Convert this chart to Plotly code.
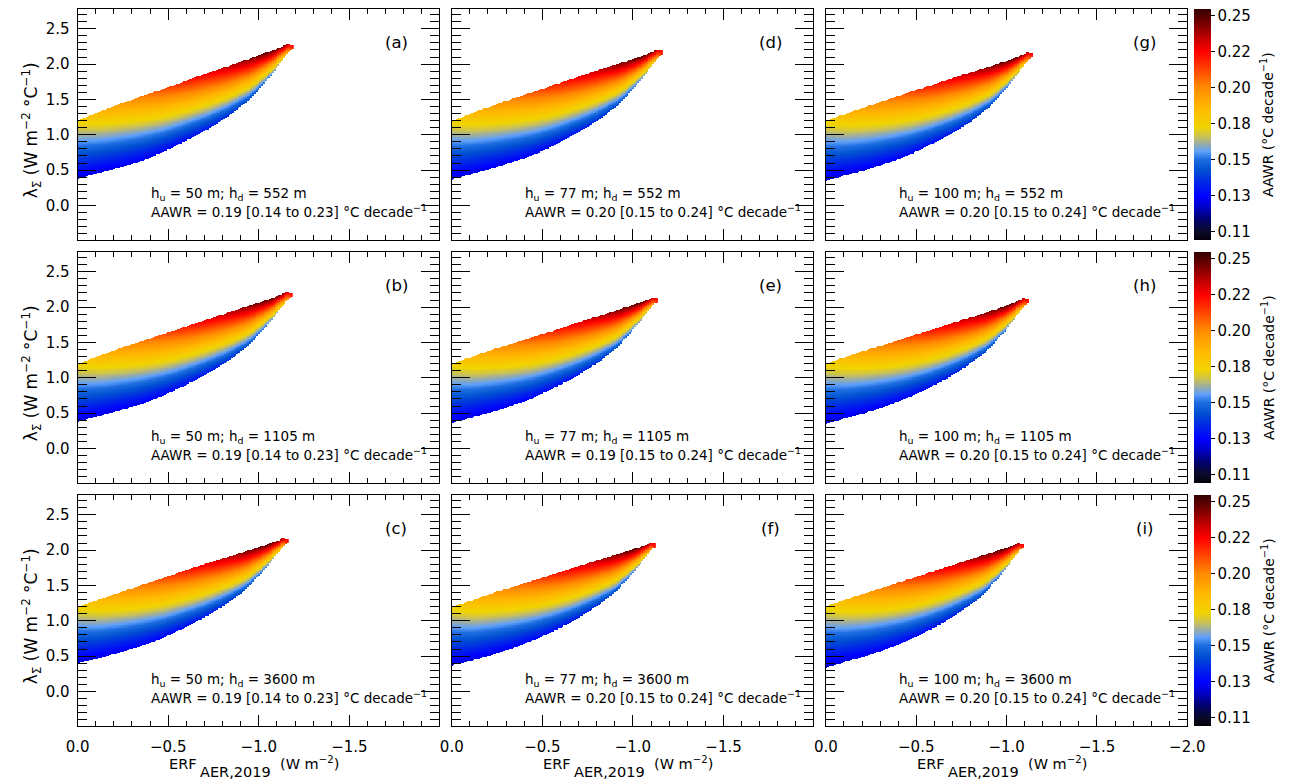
import numpy as np
import plotly.graph_objects as go

# ---------------- data ----------------
PANEL_IDS = ['a', 'b', 'c', 'd', 'e', 'f', 'g', 'h', 'i']   # column-major (col 1: a,b,c ...)
H_U = [50, 50, 50, 77, 77, 77, 100, 100, 100]
H_D = [552, 1105, 3600, 552, 1105, 3600, 552, 1105, 3600]
AAWR_MED = ['0.19', '0.19', '0.19', '0.20', '0.19', '0.20', '0.20', '0.20', '0.20']
AAWR_LOW = ['0.14', '0.14', '0.14', '0.15', '0.15', '0.15', '0.15', '0.15', '0.15']
AAWR_HIGH = ['0.23', '0.23', '0.23', '0.24', '0.24', '0.24', '0.24', '0.24', '0.24']

# ERF value at the right-hand tip of each region (W m-2)
TIP_ERF = [-1.19, -1.18, -1.16, -1.16, -1.13, -1.12, -1.14, -1.12, -1.09]

# sampling nodes along each region, as fraction of the tip ERF
NODE_FRAC = [0.0, 0.1, 0.2, 0.3, 0.4, 0.5, 0.6, 0.7, 0.8, 0.9, 0.95, 0.98, 1.0]

# upper / lower lambda bound of the region at each node (W m-2 degC-1)
UPPER = [
    [1.20, 1.32, 1.44, 1.55, 1.65, 1.76, 1.87, 1.97, 2.08, 2.19, 2.25, 2.29, 2.27],
    [1.20, 1.31, 1.42, 1.52, 1.62, 1.72, 1.82, 1.92, 2.02, 2.12, 2.18, 2.22, 2.20],
    [1.20, 1.30, 1.40, 1.50, 1.60, 1.70, 1.80, 1.89, 1.98, 2.08, 2.13, 2.17, 2.15],
    [1.20, 1.31, 1.42, 1.52, 1.62, 1.72, 1.82, 1.92, 2.01, 2.11, 2.17, 2.21, 2.19],
    [1.20, 1.30, 1.40, 1.49, 1.58, 1.67, 1.77, 1.86, 1.95, 2.05, 2.10, 2.14, 2.12],
    [1.20, 1.29, 1.39, 1.48, 1.57, 1.66, 1.75, 1.84, 1.93, 2.02, 2.07, 2.11, 2.09],
    [1.20, 1.30, 1.40, 1.50, 1.60, 1.69, 1.79, 1.88, 1.97, 2.07, 2.13, 2.17, 2.15],
    [1.20, 1.30, 1.39, 1.48, 1.57, 1.66, 1.75, 1.84, 1.93, 2.03, 2.09, 2.13, 2.11],
    [1.21, 1.30, 1.39, 1.48, 1.57, 1.66, 1.75, 1.84, 1.93, 2.02, 2.07, 2.10, 2.08],
]
LOWER = [
    [0.38, 0.46, 0.54, 0.63, 0.76, 0.91, 1.07, 1.26, 1.50, 1.84, 2.05, 2.17, 2.22],
    [0.38, 0.46, 0.54, 0.63, 0.75, 0.89, 1.05, 1.23, 1.46, 1.79, 1.99, 2.10, 2.15],
    [0.40, 0.47, 0.55, 0.64, 0.75, 0.89, 1.04, 1.22, 1.44, 1.76, 1.95, 2.06, 2.10],
    [0.37, 0.45, 0.53, 0.62, 0.73, 0.87, 1.03, 1.21, 1.44, 1.77, 1.97, 2.08, 2.14],
    [0.36, 0.44, 0.52, 0.61, 0.72, 0.86, 1.01, 1.19, 1.41, 1.73, 1.92, 2.03, 2.07],
    [0.37, 0.44, 0.52, 0.61, 0.72, 0.85, 1.00, 1.18, 1.39, 1.70, 1.89, 2.00, 2.04],
    [0.35, 0.43, 0.51, 0.60, 0.71, 0.85, 1.00, 1.18, 1.41, 1.74, 1.94, 2.05, 2.10],
    [0.35, 0.43, 0.51, 0.60, 0.71, 0.84, 0.99, 1.17, 1.39, 1.71, 1.90, 2.01, 2.06],
    [0.34, 0.42, 0.50, 0.59, 0.70, 0.83, 0.98, 1.16, 1.37, 1.69, 1.88, 1.99, 2.03],
]
# AAWR (degC/decade) on the lower and upper edge at each node
AAWR_EDGE_LO = [0.128, 0.129, 0.130, 0.131, 0.133, 0.135, 0.138, 0.142, 0.149, 0.159, 0.172, 0.195, 0.222]
AAWR_EDGE_HI = [0.180, 0.190, 0.198, 0.206, 0.214, 0.222, 0.229, 0.236, 0.244, 0.250, 0.246, 0.236, 0.226]

# colour table
CMIN, CMAX = 0.1045, 0.2545
CB_VALUES = [0.1045, 0.110, 0.118, 0.126, 0.133, 0.142, 0.150, 0.157, 0.162, 0.167, 0.172,
             0.178, 0.190, 0.2033, 0.215, 0.2267, 0.236, 0.245, 0.2545]
CB_COLORS = [(5, 0, 10), (10, 10, 40), (0, 0, 110), (0, 0, 200), (0, 0, 255), (0, 40, 230),
             (0, 80, 210), (30, 110, 225), (95, 160, 250), (155, 172, 165), (205, 195, 80),
             (240, 212, 0), (255, 185, 0), (255, 140, 0), (255, 70, 0), (255, 0, 0),
             (190, 0, 0), (120, 0, 0), (50, 0, 0)]
CB_TICKVALS = [0.11, 0.13333, 0.15667, 0.18, 0.20333, 0.22667, 0.25]
CB_TICKTEXT = ['0.11', '0.13', '0.15', '0.18', '0.20', '0.22', '0.25']

# ---------------- layout geometry (page pixels) ----------------
PAGE_OFF = 8                      # default body margin of the html page
W, H = 1304 - PAGE_OFF, 780 - PAGE_OFF
COL_LEFT = [67, 450, 833]
COL_W = 370
ROW_TOP = [9, 252, 495]
ROW_H = 231
FONT = 'DejaVu Sans'


def px_x(X):
    return (X - PAGE_OFF) / W


def px_y(Y):
    return 1 - (Y - PAGE_OFF) / H


colorscale = [[(v - CMIN) / (CMAX - CMIN), 'rgb(%d,%d,%d)' % c] for v, c in zip(CB_VALUES, CB_COLORS)]

fig = go.Figure()
layout = dict(width=W, height=H, autosize=False, margin=dict(l=0, r=0, t=0, b=0),
              paper_bgcolor='white', plot_bgcolor='white', showlegend=False,
              font=dict(family=FONT, size=14, color='black'))
annotations = []

XSTEP = 0.01
YGRID = np.round(np.arange(0.25, 2.40, 0.01), 4)

for p, pid in enumerate(PANEL_IDS):
    col, row = p // 3, p % 3
    n = p + 1
    xs = 'x' if n == 1 else 'x%d' % n
    ys = 'y' if n == 1 else 'y%d' % n
    tip = TIP_ERF[p]
    xcols = np.arange(0.0, tip - 1e-9, -XSTEP)
    z = np.full((len(YGRID), len(xcols)), np.nan)
    for i, xc in enumerate(xcols):
        f = xc / tip
        lo = np.interp(f, NODE_FRAC, LOWER[p])
        hi = np.interp(f, NODE_FRAC, UPPER[p])
        alo = np.interp(f, NODE_FRAC, AAWR_EDGE_LO)
        ahi = np.interp(f, NODE_FRAC, AAWR_EDGE_HI)
        m = (YGRID >= lo) & (YGRID <= hi)
        frac = (YGRID[m] - lo) / max(hi - lo, 1e-6)
        z[m, i] = alo + (ahi - alo) * frac
    zl = [[None if np.isnan(v) else round(float(v), 5) for v in r] for r in z]
    fig.add_trace(go.Heatmap(x=xcols.tolist(), y=YGRID.tolist(), z=zl, xaxis=xs, yaxis=ys,
                             coloraxis='coloraxis' if row == 0 else 'coloraxis%d' % (row + 1),
                             hoverinfo='skip'))

    x0 = px_x(COL_LEFT[col])
    x1 = px_x(COL_LEFT[col] + COL_W)
    y1 = px_y(ROW_TOP[row])
    y0 = px_y(ROW_TOP[row] + ROW_H)
    xname = 'xaxis' if n == 1 else 'xaxis%d' % n
    yname = 'yaxis' if n == 1 else 'yaxis%d' % n
    layout[xname] = dict(domain=[x0, x1], anchor=ys, range=[0.0, -2.0 if col == 2 else -1.995],
                         tick0=0, dtick=0.5, tickformat='.1f', ticks='inside', ticklen=11,
                         tickwidth=1, tickcolor='black', showline=True, linecolor='black',
                         linewidth=1, mirror='ticks', showgrid=False, zeroline=False,
                         showticklabels=(row == 2), tickfont=dict(size=15, family=FONT),
                         ticklabelstandoff=7,
                         minor=dict(dtick=0.1, tick0=0, ticks='inside', ticklen=5,
                                    tickwidth=1, tickcolor='black', showgrid=False))
    layout[yname] = dict(domain=[y0, y1], anchor=xs, range=[-0.49, 2.78],
                         tick0=0, dtick=0.5, tickformat='.1f', ticks='inside', ticklen=18,
                         tickwidth=1, tickcolor='black', showline=True, linecolor='black',
                         linewidth=1, mirror='ticks', showgrid=False, zeroline=False,
                         showticklabels=(col == 0), tickfont=dict(size=15, family=FONT),
                         ticklabelstandoff=4,
                         minor=dict(dtick=0.1, tick0=0, ticks='inside', ticklen=9,
                                    tickwidth=1, tickcolor='black', showgrid=False))
    dx = '%s domain' % xs
    dy = '%s domain' % ys
    annotations.append(dict(text='(%s)' % pid, xref=dx, yref=dy, x=0.881, y=0.857,
                            showarrow=False, xanchor='center', yanchor='middle',
                            font=dict(size=16.5, family=FONT)))
    annotations.append(dict(text='h<sub>u</sub> = %d m; h<sub>d</sub> = %d m' % (H_U[p], H_D[p]),
                            xref=dx, yref=dy, x=0.197, y=0.20, showarrow=False,
                            xanchor='left', yanchor='middle', font=dict(size=13.5, family=FONT)))
    annotations.append(dict(text='AAWR = %s [%s to %s] °C decade<sup>−1</sup>' %
                                 (AAWR_MED[p], AAWR_LOW[p], AAWR_HIGH[p]),
                            xref=dx, yref=dy, x=0.197, y=0.125, showarrow=False,
                            xanchor='left', yanchor='middle', font=dict(size=13.5, family=FONT)))

for row in range(3):
    cname = 'coloraxis' if row == 0 else 'coloraxis%d' % (row + 1)
    yc = px_y(ROW_TOP[row] + ROW_H / 2)
    layout[cname] = dict(colorscale=colorscale, cmin=CMIN, cmax=CMAX,
                         colorbar=dict(x=px_x(1210), xanchor='left', xpad=0, ypad=0,
                                       y=yc, yanchor='middle', lenmode='pixels', len=ROW_H,
                                       thicknessmode='pixels', thickness=17, outlinewidth=0,
                                       tickmode='array', tickvals=CB_TICKVALS, ticktext=CB_TICKTEXT,
                                       ticks='outside', ticklen=4, tickcolor='black',
                                       ticklabeloverflow='allow',
                                       tickfont=dict(size=15, family=FONT)))
    annotations.append(dict(text='AAWR (°C decade<sup>−1</sup>)', xref='paper', yref='paper',
                            x=px_x(1285), y=yc, textangle=-90, showarrow=False,
                            xanchor='center', yanchor='middle', font=dict(size=14, family=FONT)))
    annotations.append(dict(text='λ<sub>Σ</sub> (W m<sup>−2</sup> °C<sup>−1</sup>)',
                            xref='paper', yref='paper', x=px_x(20),
                            y=px_y(ROW_TOP[row] + ROW_H / 2 + 6),
                            textangle=-90, showarrow=False, xanchor='center', yanchor='middle',
                            font=dict(size=17, family=FONT)))

# x-axis titles: ERF with a full-size, strongly lowered subscript (built from three pieces)
for col in range(3):
    L = COL_LEFT[col]
    annotations.append(dict(text='ERF', xref='paper', yref='paper', x=px_x(L + 124), y=px_y(764),
                            showarrow=False, xanchor='right', yanchor='middle',
                            font=dict(size=14.5, family=FONT)))
    annotations.append(dict(text='AER,2019', xref='paper', yref='paper', x=px_x(L + 123), y=px_y(771.5),
                            showarrow=False, xanchor='left', yanchor='middle',
                            font=dict(size=14.5, family=FONT)))
    annotations.append(dict(text='(W m<sup>−2</sup>)', xref='paper', yref='paper', x=px_x(L + 205),
                            y=px_y(763), showarrow=False, xanchor='left', yanchor='middle',
                            font=dict(size=14.5, family=FONT)))

layout['annotations'] = annotations
fig.update_layout(**layout)
fig.write_html('out.html', config={'responsive': False})
